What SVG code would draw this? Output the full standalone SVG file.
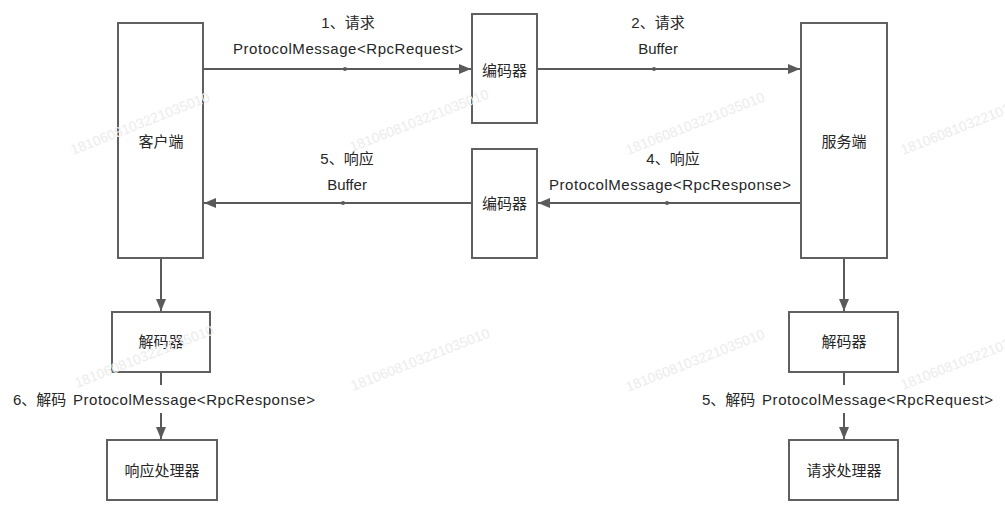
<svg xmlns="http://www.w3.org/2000/svg" width="1005" height="509" viewBox="0 0 1005 509">
<style>
  .box { fill: #ffffff; stroke: #606060; stroke-width: 2; }
  .ln { stroke: #5a5a5a; stroke-width: 2; fill: none; }
  .t { font-family: "Liberation Sans", "Noto Sans CJK SC", sans-serif; font-size: 15px; fill: #262626; text-anchor: middle; }
  .tl { font-family: "Liberation Sans", "Noto Sans CJK SC", sans-serif; font-size: 15px; fill: #262626; }
  .dot { fill: #5a5a5a; }
  .wm { font-family: "Liberation Sans", sans-serif; font-size: 14px; fill: #ececec; }
</style>
<defs>
  <marker id="arr" markerWidth="13" markerHeight="11" refX="12" refY="5" orient="auto" markerUnits="userSpaceOnUse">
    <path d="M0,0 L12,5 L0,10 z" fill="#5a5a5a"/>
  </marker>
</defs>
<rect width="1005" height="509" fill="#ffffff"/>

<g id="connectors">
  <line class="ln" x1="203" y1="69" x2="471" y2="69" marker-end="url(#arr)"/>
  <circle class="dot" cx="345" cy="69" r="2"/>
  <line class="ln" x1="537" y1="69" x2="800" y2="69" marker-end="url(#arr)"/>
  <circle class="dot" cx="654" cy="69" r="2"/>
  <line class="ln" x1="472" y1="203" x2="204" y2="203" marker-end="url(#arr)"/>
  <circle class="dot" cx="343" cy="203" r="2"/>
  <line class="ln" x1="801" y1="203" x2="538" y2="203" marker-end="url(#arr)"/>
  <circle class="dot" cx="667" cy="203" r="2"/>
  <line class="ln" x1="161" y1="258" x2="161" y2="311" marker-end="url(#arr)"/>
  <line class="ln" x1="844" y1="258" x2="844" y2="311" marker-end="url(#arr)"/>
  <line class="ln" x1="161" y1="372" x2="161" y2="385"/>
  <line class="ln" x1="161" y1="413" x2="161" y2="439" marker-end="url(#arr)"/>
  <line class="ln" x1="844" y1="372" x2="844" y2="385"/>
  <line class="ln" x1="844" y1="413" x2="844" y2="439" marker-end="url(#arr)"/>
  <text class="t" x="348" y="28">1、请求</text>
  <text class="t" x="348" y="54" textLength="230" lengthAdjust="spacing">ProtocolMessage&lt;RpcRequest&gt;</text>
  <text class="t" x="658" y="28">2、请求</text>
  <text class="t" x="658" y="54">Buffer</text>
  <text class="t" x="347" y="164">5、响应</text>
  <text class="t" x="347" y="190">Buffer</text>
  <text class="t" x="673" y="164">4、响应</text>
  <text class="t" x="670" y="190" textLength="242" lengthAdjust="spacing">ProtocolMessage&lt;RpcResponse&gt;</text>
  <text class="tl" x="13" y="405">6、解码 <tspan x="73" textLength="242" lengthAdjust="spacing">ProtocolMessage&lt;RpcResponse&gt;</tspan></text>
  <text class="tl" x="702" y="405">5、解码 <tspan x="762" textLength="231" lengthAdjust="spacing">ProtocolMessage&lt;RpcRequest&gt;</tspan></text>
</g>

<g id="client">
  <rect class="box" x="118" y="23" width="85" height="235"/>
  <text class="t" x="161" y="147">客户端</text>
</g>
<g id="encoder-top">
  <rect class="box" x="472" y="14" width="65" height="109"/>
  <text class="t" x="504.5" y="76">编码器</text>
</g>
<g id="server">
  <rect class="box" x="801" y="23" width="86" height="235"/>
  <text class="t" x="844" y="147">服务端</text>
</g>
<g id="encoder-bottom">
  <rect class="box" x="472" y="149" width="65" height="109"/>
  <text class="t" x="504.5" y="209">编码器</text>
</g>
<g id="decoder-client">
  <rect class="box" x="112" y="312" width="98" height="60"/>
  <text class="t" x="161" y="347">解码器</text>
</g>
<g id="response-handler">
  <rect class="box" x="107" y="440" width="110" height="60"/>
  <text class="t" x="162" y="476">响应处理器</text>
</g>
<g id="decoder-server">
  <rect class="box" x="789" y="312" width="109" height="60"/>
  <text class="t" x="844" y="347">解码器</text>
</g>
<g id="request-handler">
  <rect class="box" x="789" y="440" width="109" height="60"/>
  <text class="t" x="844" y="476">请求处理器</text>
</g>

<g id="watermark">
  <text class="wm" transform="translate(73,155) rotate(-21.5)">1810608103221035010</text>
  <text class="wm" transform="translate(352,152) rotate(-21.5)">1810608103221035010</text>
  <text class="wm" transform="translate(628,155) rotate(-21.5)">1810608103221035010</text>
  <text class="wm" transform="translate(903,155) rotate(-21.5)">1810608103221035010</text>
  <text class="wm" transform="translate(77,388) rotate(-21.5)">1810608103221035010</text>
  <text class="wm" transform="translate(353,391) rotate(-21.5)">1810608103221035010</text>
  <text class="wm" transform="translate(628,392) rotate(-21.5)">1810608103221035010</text>
  <text class="wm" transform="translate(903,390) rotate(-21.5)">1810608103221035010</text>
</g>
</svg>
